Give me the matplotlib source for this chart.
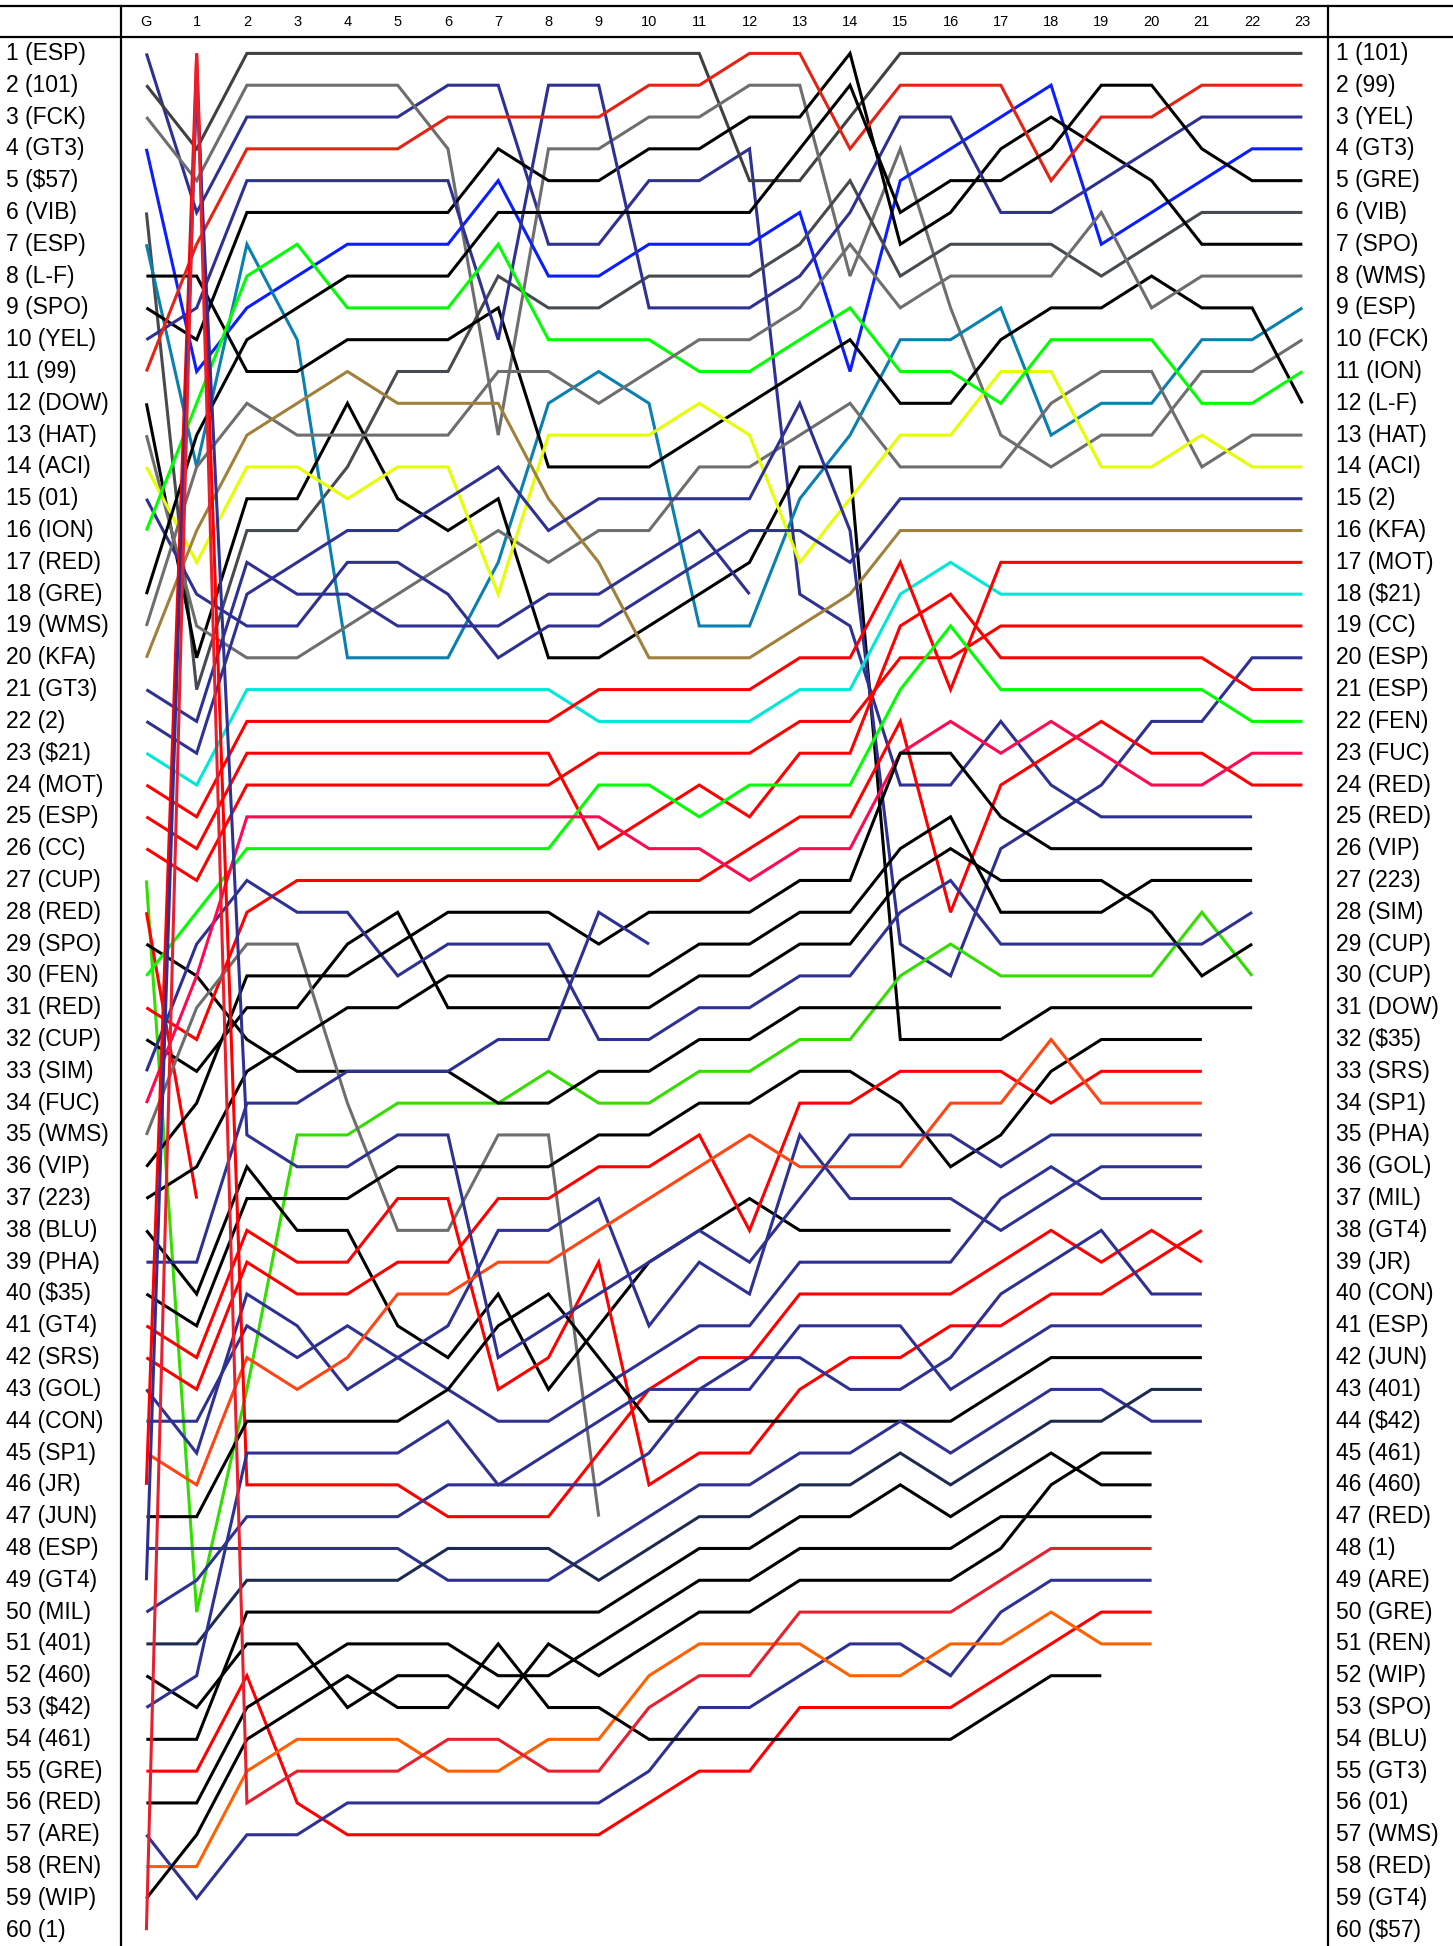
import matplotlib
matplotlib.use("Agg")
import matplotlib.pyplot as plt
import numpy as np

# Lap chart: position of every car at the grid (G) and after each lap
laps = ["G"] + [str(i) for i in range(1, 24)]

grid_labels = ["ESP", "101", "FCK", "GT3", "$57", "VIB", "ESP", "L-F", "SPO", "YEL",
               "99", "DOW", "HAT", "ACI", "01", "ION", "RED", "GRE", "WMS", "KFA",
               "GT3", "2", "$21", "MOT", "ESP", "CC", "CUP", "RED", "SPO", "FEN",
               "RED", "CUP", "SIM", "FUC", "WMS", "VIP", "223", "BLU", "PHA", "$35",
               "GT4", "SRS", "GOL", "CON", "SP1", "JR", "JUN", "ESP", "GT4", "MIL",
               "401", "460", "$42", "461", "GRE", "RED", "ARE", "REN", "WIP", "1"]

final_labels = ["101", "99", "YEL", "GT3", "GRE", "VIB", "SPO", "WMS", "ESP", "FCK",
                "ION", "L-F", "HAT", "ACI", "2", "KFA", "MOT", "$21", "CC", "ESP",
                "ESP", "FEN", "FUC", "RED", "RED", "VIP", "223", "SIM", "CUP", "CUP",
                "DOW", "$35", "SRS", "SP1", "PHA", "GOL", "MIL", "GT4", "JR", "CON",
                "ESP", "JUN", "401", "$42", "461", "460", "RED", "1", "ARE", "GRE",
                "REN", "WIP", "SPO", "BLU", "GT3", "01", "WMS", "RED", "GT4", "$57"]

N = None
# one list per grid slot: G, lap 1 ... lap 23 (None = not running)
car01 = [1, 6, 3, 3, 3, 3, 2, 2, 7, 7, 5, 5, 4, 18, 19, 24, 24, 22, 24, 25, 25, 25, 25, N]
car02 = [2, 4, 1, 1, 1, 1, 1, 1, 1, 1, 1, 1, 5, 5, 3, 1, 1, 1, 1, 1, 1, 1, 1, 1]
car03 = [3, 5, 2, 2, 2, 2, 4, 13, 4, 4, 3, 3, 2, 2, 8, 4, 9, 13, 14, 13, 13, 11, 11, 10]
car04 = [4, 11, 9, 8, 7, 7, 7, 5, 8, 8, 7, 7, 7, 6, 11, 5, 4, 3, 2, 7, 6, 5, 4, 4]
car05 = [N] * 24
car06 = [6, 21, 16, 16, 14, 11, 11, 8, 9, 9, 8, 8, 8, 7, 5, 8, 7, 7, 7, 8, 7, 6, 6, 6]
car07 = [7, 14, 7, 10, 20, 20, 20, 17, 12, 11, 12, 19, 19, 15, 13, 10, 10, 9, 13, 12, 12, 10, 10, 9]
car08 = [8, 8, 11, 11, 10, 10, 10, 9, 14, 14, 14, 13, 12, 11, 10, 12, 12, 10, 9, 9, 8, 9, 9, 12]
car09 = [9, 10, 6, 6, 6, 6, 6, 4, 5, 5, 4, 4, 3, 3, 1, 7, 6, 4, 3, 4, 5, 7, 7, 7]
car10 = [10, 9, 5, 5, 5, 5, 5, 10, 2, 2, 9, 9, 9, 8, 6, 3, 3, 6, 6, 5, 4, 3, 3, 3]
car11 = [11, 7, 4, 4, 4, 4, 3, 3, 3, 3, 2, 2, 1, 1, 4, 2, 2, 2, 5, 3, 3, 2, 2, 2]
car12 = [12, 20, 15, 15, 12, 15, 16, 15, 20, 20, 19, 18, 17, 14, 14, 32, 32, 32, 31, 31, 31, 31, 31, N]
car13 = [13, 19, 20, 20, 19, 18, 17, 16, 17, 16, 16, 14, 14, 13, 12, 14, 14, 14, 12, 11, 11, 14, 13, 13]
car14 = [14, 17, 14, 14, 15, 14, 14, 18, 13, 13, 13, 12, 13, 17, 15, 13, 13, 11, 11, 14, 14, 13, 14, 14]
car15 = [15, 18, 19, 19, 17, 17, 18, 20, 19, 19, 18, 17, 16, 16, 17, 15, 15, 15, 15, 15, 15, 15, 15, 15]
car16 = [16, 12, 8, 7, 9, 9, 9, 7, 10, 10, 10, 11, 11, 10, 9, 11, 11, 12, 10, 10, 10, 12, 12, 11]
car17 = [N] * 24
car18 = [18, 13, 10, 9, 8, 8, 8, 6, 6, 6, 6, 6, 6, 4, 2, 6, 5, 5, 4, 2, 2, 4, 5, 5]
car19 = [19, 14, 12, 13, 13, 13, 13, 11, 11, 12, 11, 10, 10, 9, 7, 9, 8, 8, 8, 6, 9, 8, 8, 8]
car20 = [20, 16, 13, 12, 11, 12, 12, 12, 15, 17, 20, 20, 20, 19, 18, 16, 16, 16, 16, 16, 16, 16, 16, 16]
car21 = [21, 22, 17, 18, 18, 19, 19, 19, 18, 18, 17, 16, 18, N, N, N, N, N, N, N, N, N, N, N]
car22 = [22, 23, 18, 17, 16, 16, 15, 14, 16, 15, 15, 15, 15, 12, 16, 29, 30, 26, 25, 24, 22, 22, 20, 20]
car23 = [23, 24, 21, 21, 21, 21, 21, 21, 21, 22, 22, 22, 22, 21, 21, 18, 17, 18, 18, 18, 18, 18, 18, 18]
car24 = [24, 25, 22, 22, 22, 22, 22, 22, 22, 21, 21, 21, 21, 20, 20, 17, 21, 17, 17, 17, 17, 17, 17, 17]
car25 = [25, 26, 23, 23, 23, 23, 23, 23, 23, 26, 25, 24, 25, 23, 23, 19, 18, 20, 20, 20, 20, 20, 21, 21]
car26 = [26, 27, 24, 24, 24, 24, 24, 24, 24, 23, 23, 23, 23, 22, 22, 20, 20, 19, 19, 19, 19, 19, 19, 19]
car27 = [27, 50, 43, 35, 35, 34, 34, 34, 33, 34, 34, 33, 33, 32, 32, 30, 29, 30, 30, 30, 30, 28, 30, N]
car28 = [28, 37, N, N, N, N, N, N, N, N, N, N, N, N, N, N, N, N, N, N, N, N, N, N]
car29 = [29, 30, 32, 33, 33, 33, 33, 34, 34, 33, 33, 32, 32, 31, 31, 31, 31, 31, N, N, N, N, N, N]
car30 = [30, 28, 26, 26, 26, 26, 26, 26, 26, 24, 24, 25, 24, 24, 24, 21, 19, 21, 21, 21, 21, 21, 22, 22]
car31 = [31, 32, 28, 27, 27, 27, 27, 27, 27, 27, 27, 27, 26, 25, 25, 22, 28, 24, 23, 22, 23, 23, 24, 24]
car32 = [32, 33, 31, 31, 29, 28, 31, 31, 31, 31, 31, 30, 30, 29, 29, 27, 26, 27, 27, 27, 28, 30, 29, N]
car33 = [33, 29, 27, 28, 28, 30, 29, 29, 29, 32, 32, 31, 31, 30, 30, 28, 27, 29, 29, 29, 29, 29, 28, N]
car34 = [34, 30, 25, 25, 25, 25, 25, 25, 25, 25, 26, 26, 27, 26, 26, 23, 22, 23, 22, 23, 24, 24, 23, 23]
car35 = [35, 31, 29, 29, 34, 38, 38, 35, 35, 47, N, N, N, N, N, N, N, N, N, N, N, N, N, N]
car36 = [36, 34, 30, 30, 30, 29, 28, 28, 28, 29, 28, 28, 28, 27, 27, 23, 23, 25, 26, 26, 26, 26, 26, N]
car37 = [37, 36, 33, 32, 31, 31, 30, 30, 30, 30, 30, 29, 29, 28, 28, 26, 25, 28, 28, 28, 27, 27, 27, N]
car38 = [38, 40, 36, 38, 38, 41, 42, 40, 43, 41, 39, 38, 37, 38, 38, 38, 38, N, N, N, N, N, N, N]
car39 = [39, 39, 34, 34, 33, 33, 33, 32, 32, 28, 29, N, N, N, N, N, N, N, N, N, N, N, N, N]
car40 = [40, 41, 37, 37, 37, 36, 36, 36, 36, 35, 35, 34, 34, 33, 33, 34, 36, 35, 33, 32, 32, 32, N, N]
car41 = [41, 42, 38, 39, 39, 37, 37, 43, 42, 39, 46, 45, 45, 43, 42, 42, 41, 41, 40, 40, 39, 38, N, N]
car42 = [42, 43, 39, 40, 40, 39, 39, 37, 37, 36, 36, 35, 38, 34, 34, 33, 33, 33, 34, 33, 33, 33, N, N]
car43 = [43, 45, 40, 41, 43, 42, 41, 38, 38, 37, 41, 39, 40, 35, 37, 37, 37, 38, 37, 36, 36, 36, N, N]
car44 = [44, 44, 41, 42, 41, 42, 43, 44, 44, 43, 42, 41, 41, 39, 39, 39, 39, 37, 36, 37, 37, 37, N, N]
car45 = [45, 46, 42, 43, 42, 40, 40, 39, 39, 38, 37, 36, 35, 36, 36, 36, 34, 34, 32, 34, 34, 34, N, N]
car46 = [46, 1, 46, 46, 46, 46, 47, 47, 47, 45, 43, 42, 42, 40, 40, 40, 40, 39, 38, 39, 38, 39, N, N]
car47 = [47, 47, 44, 44, 44, 44, 43, 41, 40, 42, 44, 44, 44, 44, 44, 44, 44, 43, 42, 42, 42, 42, N, N]
car48 = [48, 48, 48, 48, 48, 48, 49, 49, 49, 48, 47, 46, 46, 45, 45, 44, 45, 44, 43, 43, 44, 44, N, N]
car49 = [49, 2, 35, 36, 36, 35, 35, 42, 41, 40, 39, 38, 39, 37, 35, 35, 35, 36, 35, 35, 35, 35, N, N]
car50 = [50, 49, 47, 47, 47, 47, 46, 46, 46, 46, 45, 43, 43, 41, 41, 41, 43, 42, 41, 41, 41, 41, N, N]
car51 = [51, 51, 49, 49, 49, 49, 48, 48, 48, 49, 48, 47, 47, 46, 46, 45, 46, 45, 44, 44, 43, 43, N, N]
car52 = [52, 53, 51, 51, 53, 52, 52, 53, 51, 52, 51, 50, 50, 49, 49, 49, 49, 48, 46, 45, 45, N, N, N]
car53 = [53, 52, 45, 45, 45, 45, 44, 46, 45, 44, 43, 43, 42, 42, 43, 43, 42, 40, 39, 38, 40, 40, N, N]
car54 = [54, 54, 50, 50, 50, 50, 50, 50, 50, 50, 49, 48, 48, 47, 47, 46, 47, 46, 45, 46, 46, N, N, N]
car55 = [55, 55, 52, 56, 57, 57, 57, 57, 57, 57, 56, 55, 55, 53, 53, 53, 53, 52, 51, 50, 50, N, N, N]
car56 = [56, 56, 53, 52, 51, 51, 51, 52, 52, 51, 50, 49, 49, 48, 48, 48, 48, 47, 47, 47, 47, N, N, N]
car57 = [57, 59, 57, 57, 56, 56, 56, 56, 56, 56, 55, 53, 53, 52, 51, 51, 52, 50, 49, 49, 49, N, N, N]
car58 = [58, 58, 55, 54, 54, 54, 55, 55, 54, 54, 52, 51, 51, 51, 52, 52, 51, 51, 50, 51, 51, N, N, N]
car59 = [59, 57, 54, 53, 52, 53, 53, 51, 53, 53, 54, 54, 54, 54, 54, 54, 54, 53, 52, 52, N, N, N, N]
car60 = [60, 1, 56, 55, 55, 55, 54, 54, 55, 55, 53, 52, 52, 50, 50, 50, 50, 49, 48, 48, 48, N, N, N]

positions = [car01, car02, car03, car04, car05, car06, car07, car08, car09, car10,
             car11, car12, car13, car14, car15, car16, car17, car18, car19, car20,
             car21, car22, car23, car24, car25, car26, car27, car28, car29, car30,
             car31, car32, car33, car34, car35, car36, car37, car38, car39, car40,
             car41, car42, car43, car44, car45, car46, car47, car48, car49, car50,
             car51, car52, car53, car54, car55, car56, car57, car58, car59, car60]

navy, blue, black = "#2e3192", "#0a1eff", "#000000"
dgray, gray, slate = "#404040", "#6e6e6e", "#464b50"
teal, red, red2 = "#0a80b0", "#ff0000", "#e62312"
green, green2, yellow = "#00ff00", "#33dd00", "#e6ff00"
brown, cyan, pink = "#a0803a", "#00e8d8", "#ff0a50"
orange, orange2, dnavy, crimson = "#ff4514", "#ff6000", "#1e2b50", "#e8202e"

colors = [navy, dgray, gray, blue, navy, slate, teal, black, black, navy,
          red2, black, gray, yellow, navy, green, red, black, gray, brown,
          navy, navy, cyan, red, red, red, green2, red, black, green,
          red, black, navy, pink, gray, black, black, black, navy, black,
          red, red, navy, navy, orange, red, black, navy, navy, navy,
          dnavy, black, navy, black, red, black, navy, orange2, black, crimson]

W, H = 1453, 1946
fig = plt.figure(figsize=(W / 100, H / 100), dpi=100)
ax = fig.add_axes([0, 0, 1, 1])

# pixel layout: lap i sits at x = 146.4 + 50.26 i, position r at y = 53.4 + 31.81 (r - 1)
x0, dx = 146.4, 50.26
y0, dy = 53.4, 31.81
ax.set_xlim(-x0 / dx, (W - x0) / dx)
ax.set_ylim(1 + (H - y0) / dy, 1 - y0 / dy)
ax.axis("off")

xs = np.arange(len(laps))
for pos, col in zip(positions, colors):
    y = np.array([np.nan if v is None else v for v in pos], dtype=float)
    ax.plot(xs, y, color=col, lw=2.2, solid_joinstyle="miter", solid_capstyle="butt")

# frame: header band and the two label columns
xmin, xmax = ax.get_xlim()
ymax = ax.get_ylim()[0]
ax.plot([xmin, xmax], [-0.5, -0.5], color="black", lw=1.6, clip_on=False)
ax.plot([xmin, xmax], [0.5, 0.5], color="black", lw=1.6)
ax.plot([-0.5, -0.5], [-0.5, ymax], color="black", lw=1.6)
ax.plot([23.5, 23.5], [-0.5, ymax], color="black", lw=1.6)

for i, lab in enumerate(laps):
    ax.text(i, 0.02, lab, ha="center", va="center", fontsize=10.5, family="Liberation Sans")

for r in range(60):
    ax.text(xmin + 0.12, r + 1, f"{r + 1} ({grid_labels[r]})", ha="left", va="center",
            fontsize=16.5, family="Liberation Sans")
    ax.text(23.5 + 0.17, r + 1, f"{r + 1} ({final_labels[r]})", ha="left", va="center",
            fontsize=16.5, family="Liberation Sans")

fig.savefig("out.png", dpi=100)
print("done")
